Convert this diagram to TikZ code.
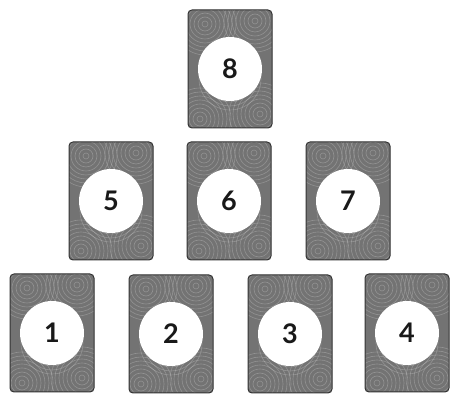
\documentclass[tikz,border=0pt]{standalone}
\usepackage{fontspec}
\setmainfont{Lato}
\usetikzlibrary{calc}
\begin{document}
\begin{tikzpicture}[x=1pt,y=-1pt,
  card/.style={rectangle, minimum width=84pt, minimum height=118pt,
    rounded corners=4pt, fill=black!55, draw=black!80, line width=1pt,
    path picture={
      \foreach \cx/\cy in {-30/-50, 30/-45, 0/-10, -25/45, 25/48}{
        \foreach \r in {3,7,...,31}
          \draw[white!80!black, opacity=0.35, line width=0.6pt]
            ($(path picture bounding box.center)+(\cx pt,\cy pt)$) circle (\r pt);
      }
    }},
  num/.style={circle, fill=white, minimum size=64pt, inner sep=0pt,
    font=\fontsize{27}{27}\selectfont\bfseries, text=black!90}]
\useasboundingbox (0,0) rectangle (451,395);
\fill[white] (0,0) rectangle (451,395);
% bottom row
\node[card] (c1) at (52,333) {};
\node[card] (c2) at (171,334) {};
\node[card] (c3) at (290,334) {};
\node[card] (c4) at (407,333) {};
% middle row
\node[card] (c5) at (111,201) {};
\node[card] (c6) at (229,201) {};
\node[card] (c7) at (348,201) {};
% top
\node[card] (c8) at (230,69) {};
\node[num] (n1) at (c1) {1};
\node[num] (n2) at (c2) {2};
\node[num] (n3) at (c3) {3};
\node[num] (n4) at (c4) {4};
\node[num] (n5) at (c5) {5};
\node[num] (n6) at (c6) {6};
\node[num] (n7) at (c7) {7};
\node[num] (n8) at (c8) {8};
\end{tikzpicture}
\end{document}
